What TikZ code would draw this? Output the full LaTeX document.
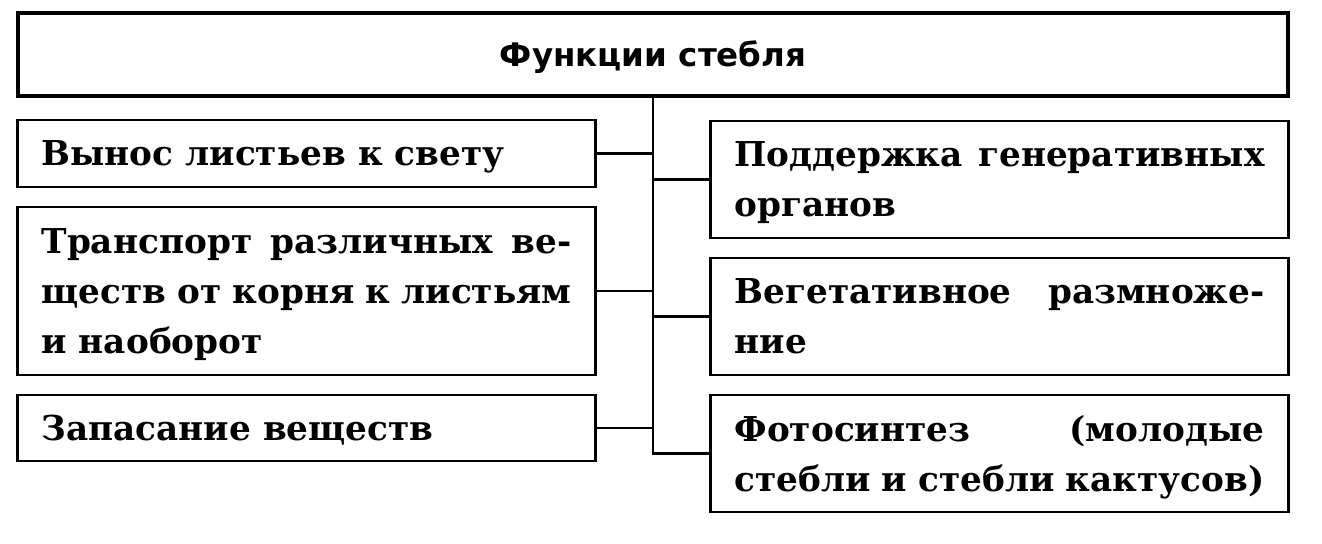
\documentclass[tikz,border=0pt]{standalone}
\usepackage{fontspec}
\setmainfont{DejaVu Serif}
\setsansfont{DejaVu Sans}
\tikzset{
    % Function boxes
    funcbox/.style={draw, line width=1.4pt, text width=10.6cm, inner xsep=0.48cm, inner ysep=0pt,
        align=justify, font=\bfseries\fontsize{19.5}{28.45}\selectfont,
        execute at end node={\par\kern-\prevdepth}},
    titlebox/.style={draw, line width=2.2pt, minimum width=25.4cm, minimum height=1.66cm,
        text height=13.5pt, text depth=0pt, inner ysep=0pt,
        font=\sffamily\bfseries\fontsize{18.5}{22}\selectfont},
    link/.style={line width=1.4pt}
}
\begin{document}
\begin{tikzpicture}[x=0.02cm, y=-0.02cm]
\useasboundingbox (0,0) rectangle (1322,544);

% Title
\node[titlebox] (title) at (653,54.5) {Функции стебля};

% Left column
\node[funcbox, minimum height=1.34cm] (light) at (306.5,153.5) {Вынос листьев к свету};
\node[funcbox, minimum height=3.36cm] (transport) at (306.5,291)
    {Транспорт различных ве-\linebreak ществ от корня к листьям\linebreak и наоборот};
\node[funcbox, minimum height=1.32cm] (storage) at (306.5,428) {Запасание веществ};

% Right column
\node[funcbox, minimum height=2.34cm] (support) at (999.5,179.5)
    {Поддержка генеративных\linebreak органов};
\node[funcbox, minimum height=2.34cm] (vegetative) at (999.5,316.5)
    {Вегетативное размноже-\linebreak ние};
\node[funcbox, minimum height=2.34cm] (photo) at (999.5,453.5)
    {Фотосинтез (молодые\linebreak стебли и стебли кактусов)};

% Connectors
\draw[link] (title.south) |- (photo.west);
\draw[link] (light.east) -- (light.east -| title.south);
\draw[link] (transport.east) -- (transport.east -| title.south);
\draw[link] (storage.east) -- (storage.east -| title.south);
\draw[link] (support.west) -- (support.west -| title.south);
\draw[link] (vegetative.west) -- (vegetative.west -| title.south);
\end{tikzpicture}
\end{document}
